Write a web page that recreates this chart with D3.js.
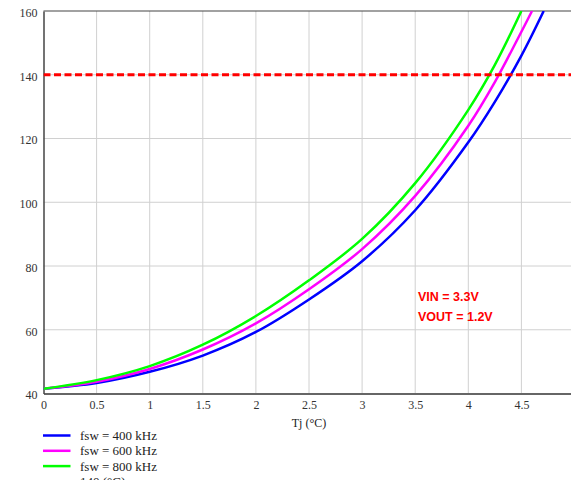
<!DOCTYPE html>
<html>
<head>
<meta charset="utf-8">
<script src="https://cdn.jsdelivr.net/npm/d3@7"></script>
<style>
  body { margin: 0; background: #fff; }
  svg { display: block; }
  .tick text { font-family: 'Liberation Serif', 'DejaVu Serif', serif; }
</style>
</head>
<body>
<script>
// values
const X_TICKS = [0, 0.5, 1, 1.5, 2, 2.5, 3, 3.5, 4, 4.5];
const Y_TICKS = [40, 60, 80, 100, 120, 140, 160];
const LIMIT = 140;

const TJ_400 = [0, 0.5, 1, 1.5, 2, 2.5, 3, 3.5, 4, 4.25, 4.5, 4.71];
const PD_400 = [41.5, 43.3, 46.8, 51.9, 59.3, 69.5, 81.5, 97.5, 118.8, 131.5, 146, 160];
const TJ_600 = [0, 0.5, 1, 1.5, 2, 2.5, 3, 3.5, 4, 4.25, 4.5, 4.6];
const PD_600 = [41.5, 43.7, 47.7, 53.8, 62, 72.7, 85.3, 102, 124, 137.7, 153.5, 160];
const TJ_800 = [0, 0.5, 1, 1.5, 2, 2.5, 3, 3.5, 4, 4.25, 4.5];
const PD_800 = [41.5, 44.2, 48.6, 55.3, 64.3, 75.5, 88.5, 106, 129, 143.1, 160];

const SERIES_NAMES = ["fsw = 400 kHz", "fsw = 600 kHz", "fsw = 800 kHz", "140 (°C)"];
const SERIES_COLORS = ["#0000ff", "#ff00ff", "#00ff00", "#ff0000"];
const NOTES = ["VIN = 3.3V", "VOUT = 1.2V"];

// frame
const FRAME_WIDTH = 571;
const FRAME_HEIGHT = 480;
const PLOT = { left: 43.5, right: 574.5, top: 11, bottom: 393.5 };

const FRAME = d3.select("body")
    .append("svg")
    .attr("width", FRAME_WIDTH)
    .attr("height", FRAME_HEIGHT);

const xScale = d3.scaleLinear().domain([0, 5]).range([PLOT.left, PLOT.right]);
const yScale = d3.scaleLinear().domain([40, 160]).range([PLOT.bottom, PLOT.top]);

FRAME.append("clipPath").attr("id", "plotclip")
    .append("rect")
    .attr("x", PLOT.left).attr("y", PLOT.top)
    .attr("width", PLOT.right - PLOT.left)
    .attr("height", PLOT.bottom - PLOT.top);

// grid
FRAME.append("g")
    .selectAll("line")
    .data(X_TICKS.slice(1))
    .enter()
    .append("line")
    .attr("x1", d => xScale(d)).attr("x2", d => xScale(d))
    .attr("y1", PLOT.top).attr("y2", PLOT.bottom)
    .attr("stroke", "#d0d0d0").attr("stroke-width", 1);

FRAME.append("g")
    .selectAll("line")
    .data(Y_TICKS.slice(1, -1))
    .enter()
    .append("line")
    .attr("x1", PLOT.left).attr("x2", PLOT.right)
    .attr("y1", d => yScale(d)).attr("y2", d => yScale(d))
    .attr("stroke", "#d0d0d0").attr("stroke-width", 1);

// axes
const xAxis = FRAME.append("g")
    .attr("transform", "translate(0," + PLOT.bottom + ")")
    .call(d3.axisBottom(xScale).tickValues(X_TICKS).tickSize(0).tickPadding(7).tickFormat(d3.format("")));
xAxis.select(".domain").attr("stroke", "#666").attr("stroke-width", 2);

const yAxis = FRAME.append("g")
    .attr("transform", "translate(" + PLOT.left + ",0)")
    .call(d3.axisLeft(yScale).tickValues(Y_TICKS).tickSize(0).tickPadding(6));
yAxis.select(".domain").attr("stroke", "#444").attr("stroke-width", 1.5);
yAxis.selectAll(".tick text").attr("dy", "0.45em");

FRAME.selectAll(".tick text")
    .attr("font-size", "12px")
    .attr("fill", "#333");

// top border
FRAME.append("line")
    .attr("x1", PLOT.left).attr("x2", PLOT.right)
    .attr("y1", PLOT.top).attr("y2", PLOT.top)
    .attr("stroke", "#444").attr("stroke-width", 1.2);

FRAME.append("text")
    .attr("x", xScale(2.5)).attr("y", 427)
    .attr("text-anchor", "middle")
    .attr("font-family", "'Liberation Serif', serif")
    .attr("font-size", "12px")
    .attr("fill", "#222")
    .text("Tj (°C)");

// curves
const lineGen = d3.line()
    .x(d => xScale(d[0]))
    .y(d => yScale(d[1]))
    .curve(d3.curveCatmullRom.alpha(0.5));

const curves = [
    d3.zip(TJ_400, PD_400),
    d3.zip(TJ_600, PD_600),
    d3.zip(TJ_800, PD_800)
];

const plotG = FRAME.append("g").attr("clip-path", "url(#plotclip)");

plotG.selectAll(".curve")
    .data(curves)
    .enter()
    .append("path")
    .attr("class", "curve")
    .attr("d", lineGen)
    .attr("fill", "none")
    .attr("stroke", (d, i) => SERIES_COLORS[i])
    .attr("stroke-width", 2.5);

// limit line
plotG.append("line")
    .attr("x1", xScale(0)).attr("x2", xScale(5))
    .attr("y1", yScale(LIMIT)).attr("y2", yScale(LIMIT))
    .attr("stroke", SERIES_COLORS[3])
    .attr("stroke-width", 3)
    .attr("stroke-dasharray", "7,3.5");

// notes
FRAME.selectAll(".note")
    .data(NOTES)
    .enter()
    .append("text")
    .attr("class", "note")
    .attr("x", 418)
    .attr("y", (d, i) => 300.5 + i * 20)
    .attr("font-family", "'Liberation Sans', Arial, sans-serif")
    .attr("font-weight", "bold")
    .attr("font-size", "12.5px")
    .attr("fill", "#ff0000")
    .text(d => d);

// legend
const legend = FRAME.append("g")
    .selectAll("g")
    .data(SERIES_NAMES)
    .enter()
    .append("g")
    .attr("transform", (d, i) => "translate(0," + (435.5 + i * 15.3) + ")");

legend.append("line")
    .attr("x1", 43).attr("x2", 70.5)
    .attr("stroke", (d, i) => SERIES_COLORS[i])
    .attr("stroke-width", 2.5)
    .attr("stroke-dasharray", (d, i) => i === 3 ? "7,3.5" : null);

legend.append("text")
    .attr("x", 80)
    .attr("dy", "0.35em")
    .attr("font-family", "'Liberation Serif', serif")
    .attr("font-size", "13px")
    .attr("fill", "#222")
    .text(d => d);
</script>
</body>
</html>
